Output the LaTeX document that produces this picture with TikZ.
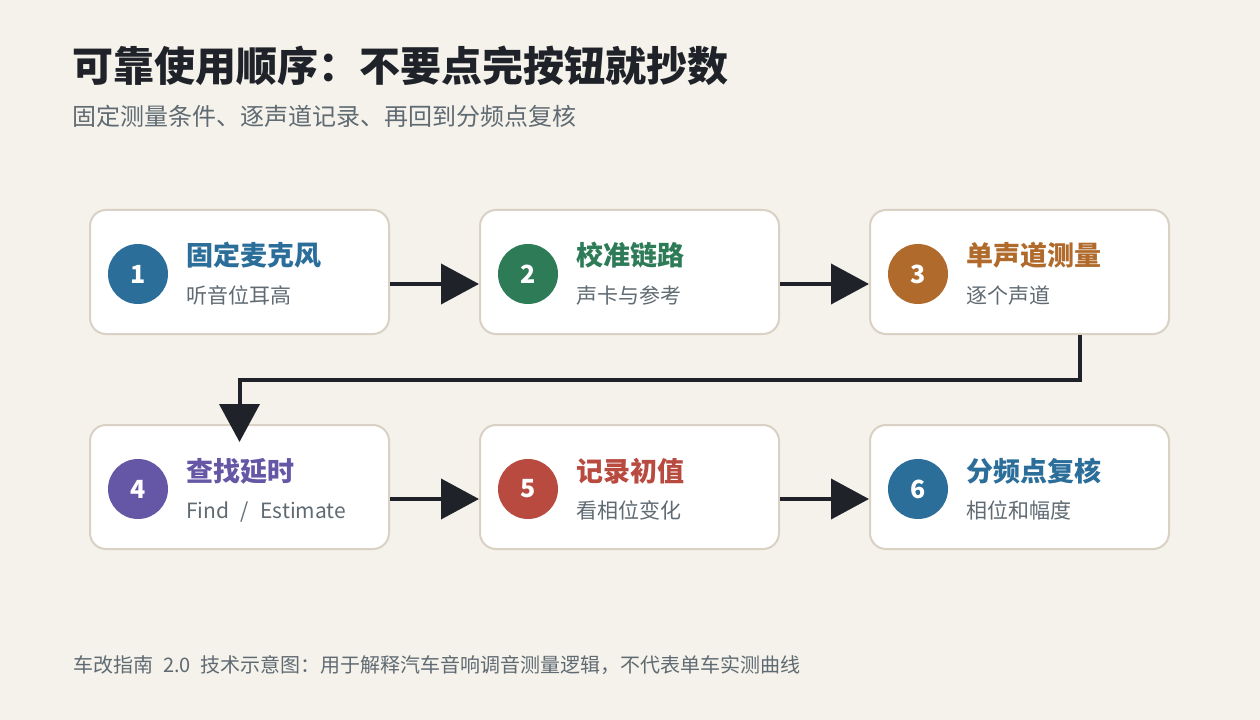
\documentclass[tikz,border=0pt]{standalone}
\usepackage{fontspec}
\setmainfont{Noto Sans CJK SC}
\usetikzlibrary{arrows.meta,calc}
\definecolor{bgc}{HTML}{F5F2EB}
\definecolor{bordc}{HTML}{D8D1C4}
\definecolor{ink}{HTML}{1F2329}
\definecolor{graytxt}{HTML}{5F6A72}
\definecolor{cblue}{HTML}{2B6E9A}
\definecolor{cgreen}{HTML}{2E7B58}
\definecolor{corange}{HTML}{B06A2C}
\definecolor{cpurple}{HTML}{6657A6}
\definecolor{cred}{HTML}{B84A3F}
\newcommand{\fpx}[1]{\fontsize{\dimexpr #1pt*3/4\relax}{\dimexpr #1pt*9/10\relax}\selectfont}
\tikzset{
  stepbox/.style={draw=bordc, line width=1.5pt, fill=white, rounded corners=12pt, minimum width=224.25pt, minimum height=93pt, inner sep=0pt},
  numdot/.style={circle, fill=#1, minimum size=45pt, inner sep=0pt, text=white, font=\fpx{25}\bfseries},
  boxtitle/.style={anchor=base west, inner sep=0pt, text=#1, font=\fpx{27}\bfseries},
  boxsub/.style={anchor=base west, inner sep=0pt, text=graytxt, font=\fpx{21}},
  arr/.style={draw=ink, line width=3pt, -{Triangle[length=28.5pt, width=30pt]}},
}
\begin{document}
\begin{tikzpicture}[x=0.75pt, y=-0.75pt]
\fill[bgc] (0,0) rectangle (1260,720);
\useasboundingbox (0,0) rectangle (1260,720);

\node[anchor=base west, inner sep=0pt, text=ink, font=\fpx{41}\bfseries] (title) at (72,82) {可靠使用顺序：不要点完按钮就抄数};
\node[anchor=base west, inner sep=0pt, text=graytxt, font=\fpx{24}] (subtitle) at (72,126) {固定测量条件、逐声道记录、再回到分频点复核};

% boxes
\node[stepbox] (b1) at (239.5,272) {};
\node[stepbox] (b2) at (629.5,272) {};
\node[stepbox] (b3) at (1019.5,272) {};
\node[stepbox] (b4) at (239.5,487) {};
\node[stepbox] (b5) at (629.5,487) {};
\node[stepbox] (b6) at (1019.5,487) {};

% circles
\node[numdot=cblue] (c1) at (138,274) {1};
\node[numdot=cgreen] (c2) at (528,274) {2};
\node[numdot=corange] (c3) at (918,274) {3};
\node[numdot=cpurple] (c4) at (138,489) {4};
\node[numdot=cred] (c5) at (528,489) {5};
\node[numdot=cblue] (c6) at (918,489) {6};

% texts
\node[boxtitle=cblue] (t1) at (186,266) {固定麦克风};
\node[boxsub] (s1) at (186,304) {听音位耳高};
\node[boxtitle=cgreen] (t2) at (576,266) {校准链路};
\node[boxsub] (s2) at (576,304) {声卡与参考};
\node[boxtitle=corange] (t3) at (966,266) {单声道测量};
\node[boxsub] (s3) at (966,304) {逐个声道};
\node[boxtitle=cpurple] (t4) at (186,481) {查找延时};
\node[boxsub] (s4) at (186,518) {Find\hspace{5pt} / \hspace{5pt}Estimate};
\node[boxtitle=cred] (t5) at (576,481) {记录初值};
\node[boxsub] (s5) at (576,518) {看相位变化};
\node[boxtitle=cblue] (t6) at (966,481) {分频点复核};
\node[boxsub] (s6) at (966,518) {相位和幅度};

% connectors
\draw[arr] ([yshift=-9pt]b1.east) -- ([yshift=-9pt]b2.west);
\draw[arr] ([yshift=-9pt]b2.east) -- ([yshift=-9pt]b3.west);
\draw[arr] ([yshift=-9pt]b4.east) -- ([yshift=-9pt]b5.west);
\draw[arr] ([yshift=-9pt]b5.east) -- ([yshift=-9pt]b6.west);
\coordinate (k1) at (1080,380);
\coordinate (tip4) at ([yshift=-13.5pt]b4.north);
\draw[arr] (b3.south -| k1) -- (k1) -| (tip4);

\node[anchor=base west, inner sep=0pt, text=graytxt, font=\fpx{20}] (footer) at (73,672) {车改指南\hspace{4pt} 2.0 \hspace{4pt}技术示意图：用于解释汽车音响调音测量逻辑，不代表单车实测曲线};
\end{tikzpicture}
\end{document}
